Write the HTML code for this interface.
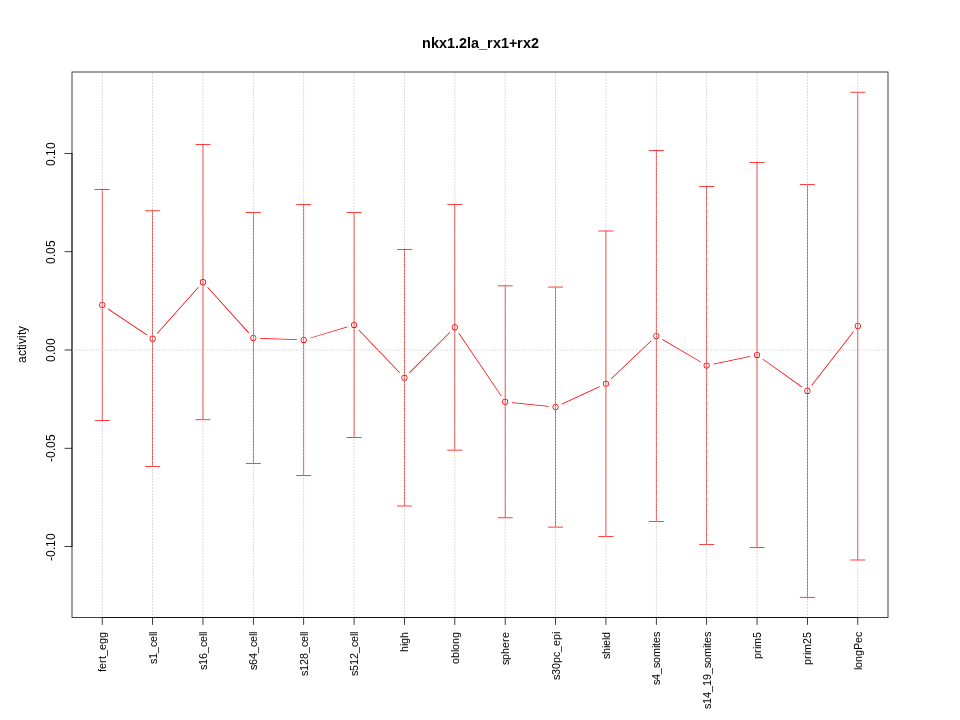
<!DOCTYPE html>
<html><head><meta charset="utf-8"><title>nkx1.2la_rx1+rx2</title>
<style>html,body{margin:0;padding:0;background:#fff;}body{width:960px;height:720px;overflow:hidden;}svg{display:block;}text{font-family:"Liberation Sans",sans-serif;fill:#000;}</style></head><body>
<svg width="960" height="720" viewBox="0 0 960 720">
<defs><filter id="ga" filterUnits="userSpaceOnUse" x="0" y="0" width="960" height="720"><feOffset dx="0" dy="0"/></filter><linearGradient id="vg" gradientUnits="userSpaceOnUse" x1="0" y1="0" x2="0" y2="3" spreadMethod="repeat"><stop offset="0" stop-color="#BEBEBE" stop-opacity="0"/><stop offset="0.333" stop-color="#BEBEBE" stop-opacity="0"/><stop offset="0.333" stop-color="#BEBEBE" stop-opacity="0.7"/><stop offset="0.667" stop-color="#BEBEBE" stop-opacity="0.7"/><stop offset="0.667" stop-color="#BEBEBE" stop-opacity="0.74"/><stop offset="1" stop-color="#BEBEBE" stop-opacity="0.74"/></linearGradient><linearGradient id="hg" gradientUnits="userSpaceOnUse" x1="0" y1="0" x2="3" y2="0" spreadMethod="repeat"><stop offset="0" stop-color="#BEBEBE" stop-opacity="0.95"/><stop offset="0.333" stop-color="#BEBEBE" stop-opacity="0.95"/><stop offset="0.333" stop-color="#BEBEBE" stop-opacity="0.12"/><stop offset="0.667" stop-color="#BEBEBE" stop-opacity="0.12"/><stop offset="0.667" stop-color="#BEBEBE" stop-opacity="0.3"/><stop offset="1" stop-color="#BEBEBE" stop-opacity="0.3"/></linearGradient></defs>
<rect x="0" y="0" width="960" height="720" fill="#fff"/>
<path fill="#FF0000" d="M107.751 309.145L146.647 335.129L147.063 334.505L108.168 308.521ZM157.463 333.748L198.652 287.526L198.092 287.027L156.903 333.249ZM207.304 287.501L248.435 333.126L248.992 332.624L207.862 286.999ZM260.213 338.645L296.794 340.079L296.824 339.33L260.243 337.896ZM310.424 338.365L347.568 327.304L347.354 326.585L310.21 337.646ZM358.567 330.225L399.409 373.017L399.952 372.5L359.109 329.708ZM409.585 373.132L450.205 332.448L449.674 331.918L409.054 372.602ZM458.368 333.227L501.011 396.318L501.632 395.898L458.989 332.807ZM512.009 402.913L548.654 406.733L548.732 405.987L512.087 402.167ZM561.973 404.513L599.824 386.967L599.508 386.287L561.658 403.833ZM611.19 379.249L651.548 340.97L651.032 340.426L610.674 378.705ZM662.061 339.761L700.523 362.287L700.902 361.639L662.44 339.113ZM713.498 364.412L750.358 356.747L750.205 356.013L713.346 363.678ZM762.437 359.287L801.572 387.199L802.008 386.588L762.872 358.676ZM811.938 385.682L853.839 331.778L853.247 331.318L811.346 385.222Z"/>
<path fill="#FF0000" fill-rule="evenodd" d="M99.147 305A3.075 3.075 0 1 0 105.297 305A3.075 3.075 0 1 0 99.147 305ZM99.897 305A2.325 2.325 0 1 0 104.547 305A2.325 2.325 0 1 0 99.897 305ZM149.518 338.65A3.075 3.075 0 1 0 155.668 338.65A3.075 3.075 0 1 0 149.518 338.65ZM150.268 338.65A2.325 2.325 0 1 0 154.918 338.65A2.325 2.325 0 1 0 150.268 338.65ZM199.888 282.125A3.075 3.075 0 1 0 206.038 282.125A3.075 3.075 0 1 0 199.888 282.125ZM200.638 282.125A2.325 2.325 0 1 0 205.288 282.125A2.325 2.325 0 1 0 200.638 282.125ZM250.258 338A3.075 3.075 0 1 0 256.408 338A3.075 3.075 0 1 0 250.258 338ZM251.008 338A2.325 2.325 0 1 0 255.658 338A2.325 2.325 0 1 0 251.008 338ZM300.629 339.975A3.075 3.075 0 1 0 306.779 339.975A3.075 3.075 0 1 0 300.629 339.975ZM301.379 339.975A2.325 2.325 0 1 0 306.029 339.975A2.325 2.325 0 1 0 301.379 339.975ZM350.999 324.975A3.075 3.075 0 1 0 357.149 324.975A3.075 3.075 0 1 0 350.999 324.975ZM351.749 324.975A2.325 2.325 0 1 0 356.399 324.975A2.325 2.325 0 1 0 351.749 324.975ZM401.369 377.75A3.075 3.075 0 1 0 407.519 377.75A3.075 3.075 0 1 0 401.369 377.75ZM402.119 377.75A2.325 2.325 0 1 0 406.769 377.75A2.325 2.325 0 1 0 402.119 377.75ZM451.74 327.3A3.075 3.075 0 1 0 457.89 327.3A3.075 3.075 0 1 0 451.74 327.3ZM452.49 327.3A2.325 2.325 0 1 0 457.14 327.3A2.325 2.325 0 1 0 452.49 327.3ZM502.11 401.825A3.075 3.075 0 1 0 508.26 401.825A3.075 3.075 0 1 0 502.11 401.825ZM502.86 401.825A2.325 2.325 0 1 0 507.51 401.825A2.325 2.325 0 1 0 502.86 401.825ZM552.481 407.075A3.075 3.075 0 1 0 558.631 407.075A3.075 3.075 0 1 0 552.481 407.075ZM553.231 407.075A2.325 2.325 0 1 0 557.881 407.075A2.325 2.325 0 1 0 553.231 407.075ZM602.851 383.725A3.075 3.075 0 1 0 609.001 383.725A3.075 3.075 0 1 0 602.851 383.725ZM603.601 383.725A2.325 2.325 0 1 0 608.251 383.725A2.325 2.325 0 1 0 603.601 383.725ZM653.221 335.95A3.075 3.075 0 1 0 659.371 335.95A3.075 3.075 0 1 0 653.221 335.95ZM653.971 335.95A2.325 2.325 0 1 0 658.621 335.95A2.325 2.325 0 1 0 653.971 335.95ZM703.592 365.45A3.075 3.075 0 1 0 709.742 365.45A3.075 3.075 0 1 0 703.592 365.45ZM704.342 365.45A2.325 2.325 0 1 0 708.992 365.45A2.325 2.325 0 1 0 704.342 365.45ZM753.962 354.975A3.075 3.075 0 1 0 760.112 354.975A3.075 3.075 0 1 0 753.962 354.975ZM754.712 354.975A2.325 2.325 0 1 0 759.362 354.975A2.325 2.325 0 1 0 754.712 354.975ZM804.332 390.9A3.075 3.075 0 1 0 810.482 390.9A3.075 3.075 0 1 0 804.332 390.9ZM805.082 390.9A2.325 2.325 0 1 0 809.732 390.9A2.325 2.325 0 1 0 805.082 390.9ZM854.703 326.1A3.075 3.075 0 1 0 860.853 326.1A3.075 3.075 0 1 0 854.703 326.1ZM855.453 326.1A2.325 2.325 0 1 0 860.103 326.1A2.325 2.325 0 1 0 855.453 326.1Z"/>
<g fill="#FF0000">
<rect x="101.847" y="189.2" width="0.75" height="231.6"/><rect x="94.722" y="189.125" width="15" height="0.75"/><rect x="94.722" y="420.125" width="15" height="0.75"/>
<rect x="152.218" y="210.5" width="0.75" height="256.3"/><rect x="145.093" y="210.425" width="15" height="0.75"/><rect x="145.093" y="466.125" width="15" height="0.75"/>
<rect x="202.588" y="144.2" width="0.75" height="275.85"/><rect x="195.463" y="144.125" width="15" height="0.75"/><rect x="195.463" y="419.375" width="15" height="0.75"/>
<rect x="252.958" y="212.2" width="0.75" height="251.6"/><rect x="245.833" y="212.125" width="15" height="0.75"/><rect x="245.833" y="463.125" width="15" height="0.75"/>
<rect x="303.329" y="204.2" width="0.75" height="271.55"/><rect x="296.204" y="204.125" width="15" height="0.75"/><rect x="296.204" y="475.075" width="15" height="0.75"/>
<rect x="353.699" y="212.2" width="0.75" height="225.55"/><rect x="346.574" y="212.125" width="15" height="0.75"/><rect x="346.574" y="437.075" width="15" height="0.75"/>
<rect x="404.069" y="249.2" width="0.75" height="257.1"/><rect x="396.944" y="249.125" width="15" height="0.75"/><rect x="396.944" y="505.625" width="15" height="0.75"/>
<rect x="454.44" y="204.2" width="0.75" height="246.2"/><rect x="447.315" y="204.125" width="15" height="0.75"/><rect x="447.315" y="449.725" width="15" height="0.75"/>
<rect x="504.81" y="285.55" width="0.75" height="232.55"/><rect x="497.685" y="285.475" width="15" height="0.75"/><rect x="497.685" y="517.425" width="15" height="0.75"/>
<rect x="555.181" y="286.75" width="0.75" height="240.65"/><rect x="548.056" y="286.675" width="15" height="0.75"/><rect x="548.056" y="526.725" width="15" height="0.75"/>
<rect x="605.551" y="230.7" width="0.75" height="306.05"/><rect x="598.426" y="230.625" width="15" height="0.75"/><rect x="598.426" y="536.075" width="15" height="0.75"/>
<rect x="655.921" y="150.15" width="0.75" height="371.6"/><rect x="648.796" y="150.075" width="15" height="0.75"/><rect x="648.796" y="521.075" width="15" height="0.75"/>
<rect x="706.292" y="186.15" width="0.75" height="358.6"/><rect x="699.167" y="186.075" width="15" height="0.75"/><rect x="699.167" y="544.075" width="15" height="0.75"/>
<rect x="756.662" y="162.2" width="0.75" height="385.55"/><rect x="749.537" y="162.125" width="15" height="0.75"/><rect x="749.537" y="547.075" width="15" height="0.75"/>
<rect x="807.032" y="184.2" width="0.75" height="413.4"/><rect x="799.907" y="184.125" width="15" height="0.75"/><rect x="799.907" y="596.925" width="15" height="0.75"/>
<rect x="857.403" y="91.9" width="0.75" height="468.4"/><rect x="850.278" y="91.825" width="15" height="0.75"/><rect x="850.278" y="559.625" width="15" height="0.75"/>
</g>
<g fill="#000">
<rect x="101.922" y="617.025" width="756.156" height="0.75"/>
<rect x="101.847" y="617.1" width="0.75" height="7.8"/>
<rect x="152.218" y="617.1" width="0.75" height="7.8"/>
<rect x="202.588" y="617.1" width="0.75" height="7.8"/>
<rect x="252.958" y="617.1" width="0.75" height="7.8"/>
<rect x="303.329" y="617.1" width="0.75" height="7.8"/>
<rect x="353.699" y="617.1" width="0.75" height="7.8"/>
<rect x="404.069" y="617.1" width="0.75" height="7.8"/>
<rect x="454.44" y="617.1" width="0.75" height="7.8"/>
<rect x="504.81" y="617.1" width="0.75" height="7.8"/>
<rect x="555.181" y="617.1" width="0.75" height="7.8"/>
<rect x="605.551" y="617.1" width="0.75" height="7.8"/>
<rect x="655.921" y="617.1" width="0.75" height="7.8"/>
<rect x="706.292" y="617.1" width="0.75" height="7.8"/>
<rect x="756.662" y="617.1" width="0.75" height="7.8"/>
<rect x="807.032" y="617.1" width="0.75" height="7.8"/>
<rect x="857.403" y="617.1" width="0.75" height="7.8"/>
<rect x="71.625" y="153.2" width="0.75" height="393.6"/>
<rect x="64.5" y="153.125" width="7.8" height="0.75"/>
<rect x="64.5" y="251.375" width="7.8" height="0.75"/>
<rect x="64.5" y="349.625" width="7.8" height="0.75"/>
<rect x="64.5" y="447.875" width="7.8" height="0.75"/>
<rect x="64.5" y="546.125" width="7.8" height="0.75"/>
<rect x="71.625" y="71.625" width="816.75" height="0.75"/>
<rect x="71.625" y="617.025" width="816.75" height="0.75"/>
<rect x="71.625" y="72.375" width="0.75" height="544.65"/>
<rect x="887.625" y="72.375" width="0.75" height="544.65"/>
</g>
<rect x="101.847" y="72" width="0.75" height="545.4" fill="url(#vg)"/>
<rect x="152.218" y="72" width="0.75" height="545.4" fill="url(#vg)"/>
<rect x="202.588" y="72" width="0.75" height="545.4" fill="url(#vg)"/>
<rect x="252.958" y="72" width="0.75" height="545.4" fill="url(#vg)"/>
<rect x="303.329" y="72" width="0.75" height="545.4" fill="url(#vg)"/>
<rect x="353.699" y="72" width="0.75" height="545.4" fill="url(#vg)"/>
<rect x="404.069" y="72" width="0.75" height="545.4" fill="url(#vg)"/>
<rect x="454.44" y="72" width="0.75" height="545.4" fill="url(#vg)"/>
<rect x="504.81" y="72" width="0.75" height="545.4" fill="url(#vg)"/>
<rect x="555.181" y="72" width="0.75" height="545.4" fill="url(#vg)"/>
<rect x="605.551" y="72" width="0.75" height="545.4" fill="url(#vg)"/>
<rect x="655.921" y="72" width="0.75" height="545.4" fill="url(#vg)"/>
<rect x="706.292" y="72" width="0.75" height="545.4" fill="url(#vg)"/>
<rect x="756.662" y="72" width="0.75" height="545.4" fill="url(#vg)"/>
<rect x="807.032" y="72" width="0.75" height="545.4" fill="url(#vg)"/>
<rect x="857.403" y="72" width="0.75" height="545.4" fill="url(#vg)"/>
<rect x="72" y="349.625" width="816" height="0.75" fill="url(#hg)"/>
<g filter="url(#ga)">
<text x="422 431 439 447 455 459 467 471 479 487 493 501 509 517 523 531" y="48" font-size="14.4" font-weight="bold">nkx1.2la_rx1+rx2</text>
<text transform="translate(26 363) rotate(-90)" x="0 7 13 16 19 25 28 31" y="0" font-size="12">activity</text>
<text transform="translate(55 166) rotate(-90)" x="0 7 10 17" y="0" font-size="12">0.10</text>
<text transform="translate(55 264) rotate(-90)" x="0 7 10 17" y="0" font-size="12">0.05</text>
<text transform="translate(55 362) rotate(-90)" x="0 7 10 17" y="0" font-size="12">0.00</text>
<text transform="translate(55 462) rotate(-90)" x="0 4 11 14 21" y="0" font-size="12">-0.05</text>
<text transform="translate(55 561) rotate(-90)" x="0 4 11 14 21" y="0" font-size="12">-0.10</text>
<text transform="translate(106 672) rotate(-90)" x="0 3 9 13 16 22 28 34" y="0" font-size="10.8">fert_egg</text>
<text transform="translate(157 664) rotate(-90)" x="0 5 11 17 22 28 30" y="0" font-size="10.8">s1_cell</text>
<text transform="translate(207 670) rotate(-90)" x="0 5 11 17 23 28 34 36" y="0" font-size="10.8">s16_cell</text>
<text transform="translate(257 670) rotate(-90)" x="0 5 11 17 23 28 34 36" y="0" font-size="10.8">s64_cell</text>
<text transform="translate(308 676) rotate(-90)" x="0 5 11 17 23 29 34 40 42" y="0" font-size="10.8">s128_cell</text>
<text transform="translate(358 676) rotate(-90)" x="0 5 11 17 23 29 34 40 42" y="0" font-size="10.8">s512_cell</text>
<text transform="translate(408 652) rotate(-90)" x="0 6 8 14" y="0" font-size="10.8">high</text>
<text transform="translate(459 664) rotate(-90)" x="0 6 12 14 20 26" y="0" font-size="10.8">oblong</text>
<text transform="translate(509 665) rotate(-90)" x="0 5 11 17 23 27" y="0" font-size="10.8">sphere</text>
<text transform="translate(560 680) rotate(-90)" x="0 5 11 17 23 28 34 40 46" y="0" font-size="10.8">s30pc_epi</text>
<text transform="translate(610 659) rotate(-90)" x="0 5 11 13 19 21" y="0" font-size="10.8">shield</text>
<text transform="translate(660 685) rotate(-90)" x="0 5 11 17 22 28 37 39 42 48" y="0" font-size="10.8">s4_somites</text>
<text transform="translate(711 709) rotate(-90)" x="0 5 11 17 23 29 35 41 46 52 61 63 66 72" y="0" font-size="10.8">s14_19_somites</text>
<text transform="translate(761 659) rotate(-90)" x="0 6 10 12 21" y="0" font-size="10.8">prim5</text>
<text transform="translate(811 665) rotate(-90)" x="0 6 10 12 21 27" y="0" font-size="10.8">prim25</text>
<text transform="translate(862 670) rotate(-90)" x="0 2 8 14 20 27 33" y="0" font-size="10.8">longPec</text>
</g>
</svg></body></html>
